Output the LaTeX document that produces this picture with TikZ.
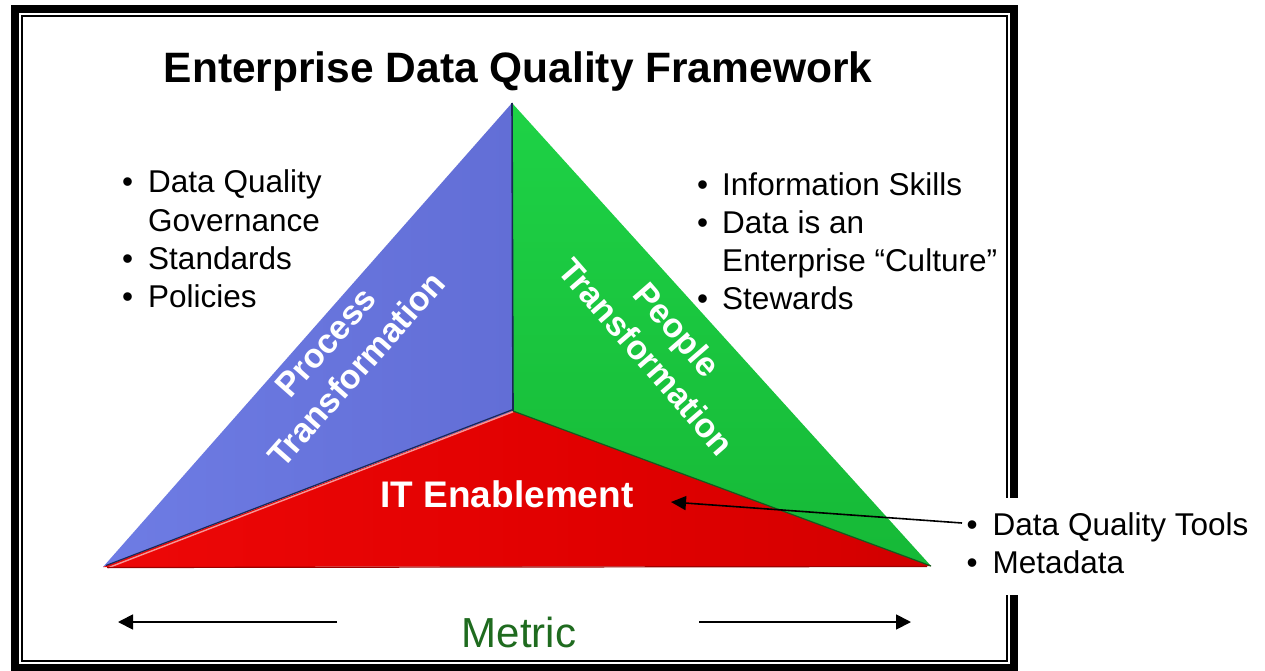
\documentclass[tikz,border=0pt]{standalone}
\usepackage{fontspec}
\setmainfont{Liberation Sans}
\usetikzlibrary{arrows.meta,calc}
\definecolor{blueA}{RGB}{110,124,228}
\definecolor{blueB}{RGB}{98,110,214}
\definecolor{greenA}{RGB}{30,210,70}
\definecolor{greenB}{RGB}{22,185,55}
\definecolor{redB}{RGB}{158,0,0}
\definecolor{edgeNavy}{RGB}{25,40,85}
\definecolor{edgePink}{RGB}{245,150,150}
\definecolor{edgeGreen}{RGB}{20,90,30}
\definecolor{metricGreen}{RGB}{31,107,31}
\pgfdeclarehorizontalshading{redshade}{100bp}{
  rgb(0bp)=(0.93,0.03,0.03);
  rgb(25bp)=(0.93,0.03,0.03);
  rgb(55bp)=(0.88,0.0,0.0);
  rgb(70bp)=(0.84,0.0,0.0);
  rgb(85bp)=(0.75,0.0,0.0);
  rgb(100bp)=(0.60,0.0,0.0)}
\tikzset{
  blist/.style={anchor=base west, inner sep=0pt, font=\fontsize{31.5}{38.3}\selectfont, align=left},
  tritext/.style={white, font=\bfseries\fontsize{34}{41}\selectfont, align=center, inner sep=0pt},
  bigarrow/.style={line width=1.8pt, -{Triangle[length=15pt,width=15pt]}},
  ptarrow/.style={line width=1.6pt, -{Triangle[length=15pt,width=14pt]}}
}
\begin{document}
\begin{tikzpicture}[x=1pt,y=-1pt]
\useasboundingbox (0,0) rectangle (1265,671);
\fill[white] (0,0) rectangle (1265,671);
% frame
\draw[line width=8pt] (15,9) rectangle (1014,668);
\draw[line width=1.8pt] (22,16) rectangle (1007,661);
% title
\node[anchor=base, inner sep=0pt, font=\bfseries\fontsize{42.5}{50}\selectfont] (title) at (518,83) {Enterprise Data Quality Framework};
% triangle
\coordinate (A) at (512,103);
\coordinate (L) at (103,567);
\coordinate (R) at (931,566);
\coordinate (C) at (513,411);
\shade[left color=blueA, right color=blueB] (A) -- (L) -- (C) -- cycle;
\shade[top color=greenA, bottom color=greenB] (A) -- (C) -- (R) -- cycle;
\shade[shading=redshade] (L) -- (C) -- (R) -- cycle;
\draw[edgeNavy, line width=1.6pt] (A) -- (C);
\draw[edgeNavy, line width=1.2pt] ($(L)+(3,-1.5)$) -- ($(C)+(0,-1.5)$);
\draw[edgePink, line width=1.4pt] ($(L)+(5,0.8)$) -- ($(C)+(0,0.8)$);
\draw[edgeGreen, line width=1.2pt] (C) -- (R);
\draw[redB, line width=1.2pt] ($(L)+(4,0.5)$) -- ($(R)+(-4,0.5)$);
% triangle labels
\node[tritext, rotate=48.5] (proc) at (341,356) {Process\\Transformation};
\node[tritext, rotate=-49] (peop) at (662,343) {People\\Transformation};
\node[anchor=base, inner sep=0pt, white, font=\bfseries\fontsize{37}{44}\selectfont] (it) at (507,507) {IT Enablement};
% bullet lists
\node[blist] (leftlist) at (122,193) {\begin{tabular}[t]{@{}l@{\hspace{15pt}}l@{}}\textbullet & Data Quality\\ & Governance\\ \textbullet & Standards\\ \textbullet & Policies\end{tabular}};
\node[blist] (rightlist) at (697,195) {\begin{tabular}[t]{@{}l@{\hspace{14pt}}l@{}}\textbullet & Information Skills\\ \textbullet & Data is an\\ & Enterprise “Culture”\\ \textbullet & Stewards\end{tabular}};
\node[blist, fill=white, inner xsep=6pt, inner ysep=10pt] (tools) at (960.5,535) {\begin{tabular}[t]{@{}l@{\hspace{15pt}}l@{}}\textbullet & Data Quality Tools\\ \textbullet & Metadata\end{tabular}};
\coordinate (toolsstart) at (962,523);
\coordinate (ittip) at (671,502);
\draw[ptarrow] (toolsstart) -- (ittip);
% metric
\node[anchor=base, inner sep=0pt, metricGreen, font=\fontsize{42}{50}\selectfont] (metric) at (519,647) {Metric};
\coordinate (mlstart) at (337,622);
\coordinate (mlend) at (118,622);
\coordinate (mrstart) at (699,622);
\coordinate (mrend) at (911,622);
\draw[bigarrow] (mlstart) -- (mlend);
\draw[bigarrow] (mrstart) -- (mrend);
\end{tikzpicture}
\end{document}
